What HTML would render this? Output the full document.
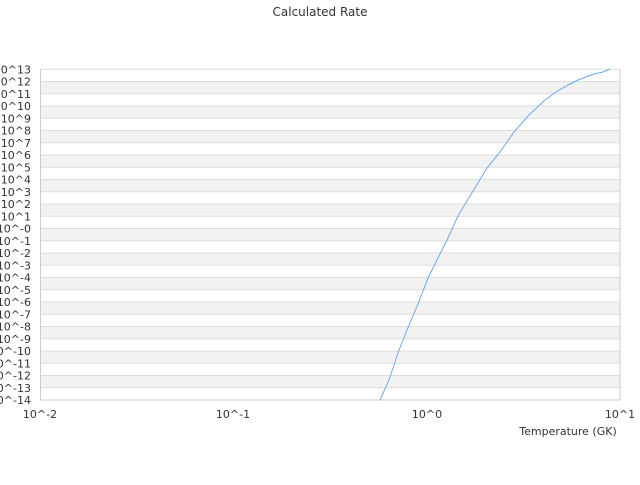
<!DOCTYPE html>
<html><head><style>body{margin:0;background:#fff}</style></head><body>
<svg width="640" height="480" xmlns="http://www.w3.org/2000/svg" font-family="DejaVu Sans, sans-serif" font-size="11" fill="#333">
<rect width="640" height="480" fill="#fff"/>
<text x="320" y="16" text-anchor="middle" font-size="12">Calculated Rate</text>
<g fill="#f2f2f2">
<rect x="40.5" y="81.55" width="579.5" height="12.25"/>
<rect x="40.5" y="106.04" width="579.5" height="12.25"/>
<rect x="40.5" y="130.54" width="579.5" height="12.25"/>
<rect x="40.5" y="155.04" width="579.5" height="12.25"/>
<rect x="40.5" y="179.53" width="579.5" height="12.25"/>
<rect x="40.5" y="204.03" width="579.5" height="12.25"/>
<rect x="40.5" y="228.52" width="579.5" height="12.25"/>
<rect x="40.5" y="253.02" width="579.5" height="12.25"/>
<rect x="40.5" y="277.52" width="579.5" height="12.25"/>
<rect x="40.5" y="302.01" width="579.5" height="12.25"/>
<rect x="40.5" y="326.51" width="579.5" height="12.25"/>
<rect x="40.5" y="351.0" width="579.5" height="12.25"/>
<rect x="40.5" y="375.5" width="579.5" height="12.25"/>
</g>
<g stroke="#ddd">
<line x1="40.5" x2="620" y1="69.3" y2="69.3"/>
<line x1="40.5" x2="620" y1="81.55" y2="81.55"/>
<line x1="40.5" x2="620" y1="93.8" y2="93.8"/>
<line x1="40.5" x2="620" y1="106.04" y2="106.04"/>
<line x1="40.5" x2="620" y1="118.29" y2="118.29"/>
<line x1="40.5" x2="620" y1="130.54" y2="130.54"/>
<line x1="40.5" x2="620" y1="142.79" y2="142.79"/>
<line x1="40.5" x2="620" y1="155.04" y2="155.04"/>
<line x1="40.5" x2="620" y1="167.28" y2="167.28"/>
<line x1="40.5" x2="620" y1="179.53" y2="179.53"/>
<line x1="40.5" x2="620" y1="191.78" y2="191.78"/>
<line x1="40.5" x2="620" y1="204.03" y2="204.03"/>
<line x1="40.5" x2="620" y1="216.28" y2="216.28"/>
<line x1="40.5" x2="620" y1="228.52" y2="228.52"/>
<line x1="40.5" x2="620" y1="240.77" y2="240.77"/>
<line x1="40.5" x2="620" y1="253.02" y2="253.02"/>
<line x1="40.5" x2="620" y1="265.27" y2="265.27"/>
<line x1="40.5" x2="620" y1="277.52" y2="277.52"/>
<line x1="40.5" x2="620" y1="289.76" y2="289.76"/>
<line x1="40.5" x2="620" y1="302.01" y2="302.01"/>
<line x1="40.5" x2="620" y1="314.26" y2="314.26"/>
<line x1="40.5" x2="620" y1="326.51" y2="326.51"/>
<line x1="40.5" x2="620" y1="338.76" y2="338.76"/>
<line x1="40.5" x2="620" y1="351.0" y2="351.0"/>
<line x1="40.5" x2="620" y1="363.25" y2="363.25"/>
<line x1="40.5" x2="620" y1="375.5" y2="375.5"/>
<line x1="40.5" x2="620" y1="387.75" y2="387.75"/>
</g>
<g text-anchor="end">
<text x="31" y="73.3">10^13</text>
<text x="31" y="85.55">10^12</text>
<text x="31" y="97.8">10^11</text>
<text x="31" y="110.04">10^10</text>
<text x="31" y="122.29">10^9</text>
<text x="31" y="134.54">10^8</text>
<text x="31" y="146.79">10^7</text>
<text x="31" y="159.04">10^6</text>
<text x="31" y="171.28">10^5</text>
<text x="31" y="183.53">10^4</text>
<text x="31" y="195.78">10^3</text>
<text x="31" y="208.03">10^2</text>
<text x="31" y="220.28">10^1</text>
<text x="31" y="232.52">10^-0</text>
<text x="31" y="244.77">10^-1</text>
<text x="31" y="257.02">10^-2</text>
<text x="31" y="269.27">10^-3</text>
<text x="31" y="281.52">10^-4</text>
<text x="31" y="293.76">10^-5</text>
<text x="31" y="306.01">10^-6</text>
<text x="31" y="318.26">10^-7</text>
<text x="31" y="330.51">10^-8</text>
<text x="31" y="342.76">10^-9</text>
<text x="31" y="355.0">10^-10</text>
<text x="31" y="367.25">10^-11</text>
<text x="31" y="379.5">10^-12</text>
<text x="31" y="391.75">10^-13</text>
<text x="31" y="404">10^-14</text>
</g>
<line x1="40.5" x2="620" y1="400" y2="400" stroke="#ccc"/>
<line x1="40.5" x2="40.5" y1="69" y2="400" stroke="#ccc"/>
<line x1="620" x2="620" y1="69" y2="400" stroke="#ccc"/>
<text x="40" y="418" text-anchor="middle">10^-2</text>
<text x="233" y="418" text-anchor="middle">10^-1</text>
<text x="427" y="418" text-anchor="middle">10^0</text>
<text x="620" y="418" text-anchor="middle">10^1</text>
<text x="568" y="435" text-anchor="middle">Temperature (GK)</text>
<polyline fill="none" stroke="#6aaaf0" stroke-width="1" points="380,400 389,380 399,350 407,330 418,304 428,278 447,240 458,216 470,196 487,168 500,152 514,132 528,116 545,100 556,92 568,85 578,80 594,74 603,72 610,69"/>
</svg>
</body></html>
